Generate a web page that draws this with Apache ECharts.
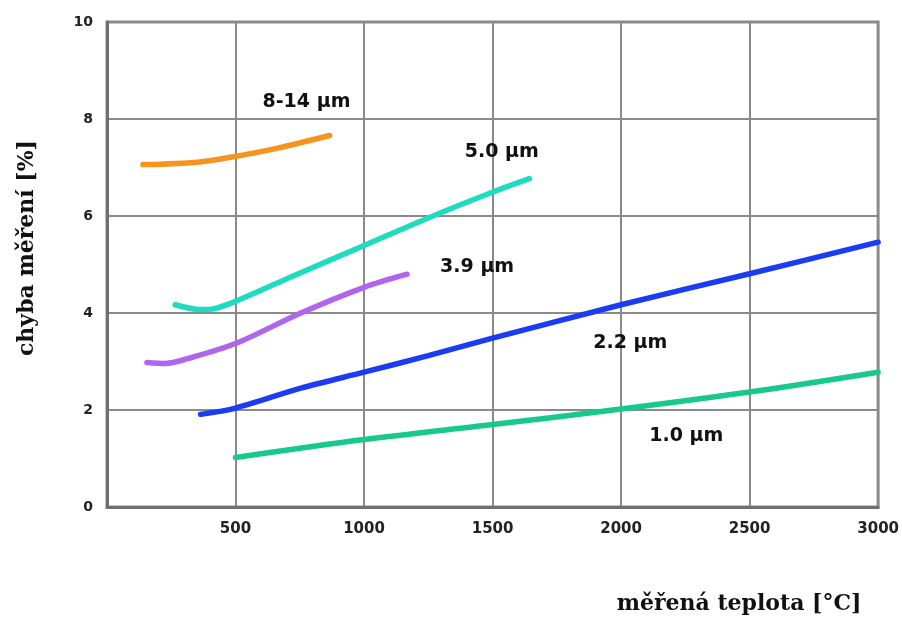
<!DOCTYPE html>
<html>
<head>
<meta charset="utf-8">
<title>chyba měření</title>
<script src="https://cdn.jsdelivr.net/npm/echarts@6/dist/echarts.min.js"></script>
<style>
  html, body { margin: 0; padding: 0; background: #ffffff; }
  #chart { width: 902px; height: 617px; }
</style>
</head>
<body>
<div id="chart"></div>
<script>
// Measurement error [%] vs. measured temperature [°C] for several wavelengths
const xTicks = [500, 1000, 1500, 2000, 2500, 3000];
const yTicks = [0, 2, 4, 6, 8, 10];

const names = ['8-14 µm', '5.0 µm', '3.9 µm', '2.2 µm', '1.0 µm'];

const tempLW = [140, 352, 500, 664, 866];
const errLW = [7.06, 7.11, 7.23, 7.40, 7.66];

const temp50 = [265, 364, 417, 500, 740, 1000, 1254, 1504, 1643];
const err50 = [4.17, 4.07, 4.09, 4.24, 4.80, 5.39, 5.97, 6.50, 6.77];

const temp39 = [155, 227, 314, 500, 754, 1000, 1167];
const err39 = [2.98, 2.96, 3.06, 3.37, 4.0, 4.53, 4.80];

const temp22 = [364, 500, 754, 1000, 1250, 1500, 2000, 2500, 3000];
const err22 = [1.91, 2.04, 2.45, 2.78, 3.12, 3.48, 4.17, 4.81, 5.46];

const temp10 = [500, 1000, 1500, 2000, 2500, 3000];
const err10 = [1.02, 1.39, 1.70, 2.02, 2.37, 2.78];

const pairs = (xs, ys) => xs.map((x, i) => [x, ys[i]]);

const chart = echarts.init(document.getElementById('chart'), null, { renderer: 'canvas' });

const labelFont = { fontFamily: 'DejaVu Sans', fontWeight: 'bold', fontSize: 19, color: '#111111' };

function curve(name, xs, ys, color, labelAt) {
  return {
    name: name,
    type: 'line',
    data: pairs(xs, ys),
    smooth: 0.3,
    showSymbol: false,
    symbol: 'none',
    lineStyle: { color: color, width: 5.5, cap: 'round', join: 'round' },
    itemStyle: { color: color },
    markPoint: {
      symbol: 'circle',
      symbolSize: 0,
      silent: true,
      data: [{ coord: labelAt }],
      label: Object.assign({ show: true, position: 'inside', formatter: name }, labelFont)
    },
    z: 3
  };
}

const option = {
  animation: false,
  backgroundColor: '#ffffff',
  grid: {
    left: 107, right: 22, top: 22, bottom: 110,
    show: true, borderColor: '#8c8c8c', borderWidth: 3, backgroundColor: 'transparent'
  },
  xAxis: {
    type: 'value',
    min: 0, max: 3000, interval: 500,
    axisLine: { show: true, lineStyle: { color: '#707070', width: 3 } },
    axisTick: { show: false },
    splitLine: { show: true, lineStyle: { color: '#8a8a8a', width: 2 } },
    axisLabel: {
      margin: 15,
      fontFamily: 'DejaVu Sans', fontWeight: 'bold', fontSize: 15, color: '#222222',
      formatter: v => (xTicks.indexOf(v) >= 0 ? String(v) : '')
    }
  },
  yAxis: {
    type: 'value',
    min: 0, max: 10, interval: 2,
    axisLine: { show: true, lineStyle: { color: '#707070', width: 3 } },
    axisTick: { show: false },
    splitLine: { show: true, lineStyle: { color: '#8a8a8a', width: 2 } },
    axisLabel: {
      margin: 14,
      fontFamily: 'DejaVu Sans', fontWeight: 'bold', fontSize: 14, color: '#222222',
      formatter: v => (yTicks.indexOf(v) >= 0 ? String(v) : '')
    }
  },
  graphic: [
    {
      type: 'text', x: 27, y: 248, rotation: Math.PI / 2,
      style: {
        text: 'chyba měření [%]', fill: '#111111',
        font: 'bold 22px "DejaVu Serif"', textAlign: 'center', textVerticalAlign: 'middle'
      }
    },
    {
      type: 'text', x: 739, y: 604,
      style: {
        text: 'měřená teplota [°C]', fill: '#111111',
        font: 'bold 22px "DejaVu Serif"', textAlign: 'center', textVerticalAlign: 'middle'
      }
    }
  ],
  series: [
    curve(names[0], tempLW, errLW, '#f7941d', [776, 8.34]),
    curve(names[1], temp50, err50, '#1fdcc0', [1536, 7.32]),
    curve(names[2], temp39, err39, '#b065ef', [1440, 4.94]),
    curve(names[3], temp22, err22, '#1a3cf2', [2036, 3.39]),
    curve(names[4], temp10, err10, '#17c98b', [2254, 1.46])
  ]
};

chart.setOption(option);
</script>
</body>
</html>
